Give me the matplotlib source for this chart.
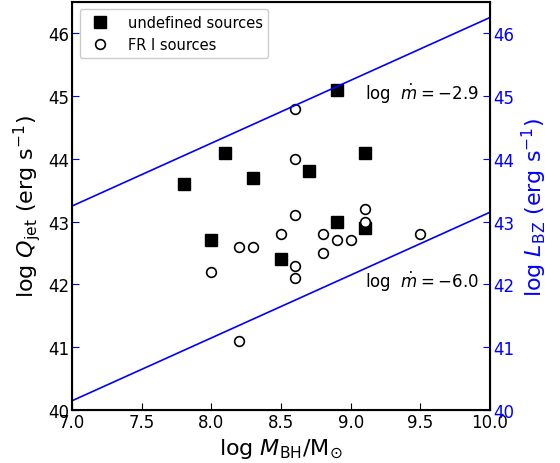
import numpy as np
import matplotlib
matplotlib.use('Agg')
import matplotlib.pyplot as plt

# undefined sources (filled squares)
und_mbh = [7.8, 8.1, 8.3, 8.7, 8.9, 9.1, 8.0, 8.5, 8.9, 9.1]
und_q = [43.6, 44.1, 43.7, 43.8, 45.1, 44.1, 42.7, 42.4, 43.0, 42.9]

# FR I sources (open circles)
fr1_mbh = [8.6, 8.6, 9.1, 8.6, 9.1, 8.5, 8.8, 9.5, 8.9, 9.0, 8.2, 8.3, 8.8, 8.6, 8.0, 8.6, 8.2]
fr1_q = [44.8, 44.0, 43.2, 43.1, 43.0, 42.8, 42.8, 42.8, 42.7, 42.7, 42.6, 42.6, 42.5, 42.3, 42.2, 42.1, 41.1]

# accretion-rate lines: log Q = log M + offset
line_mbh = [7.0, 10.0]
line_offsets = [36.25, 33.15]
line_labels = [r'log  $\dot{m} = -2.9$', r'log  $\dot{m} = -6.0$']
label_y = [45.05, 42.05]

fig = plt.figure(figsize=(5.6, 4.64), dpi=100)
ax = fig.add_axes([0.129, 0.114, 0.746, 0.88])

ax.plot(und_mbh, und_q, 's', color='black', markersize=8, label='undefined sources')
ax.plot(fr1_mbh, fr1_q, 'o', markerfacecolor='white', markeredgecolor='black',
        markeredgewidth=1.2, markersize=7, label='FR I sources')

for off, lab, ly in zip(line_offsets, line_labels, label_y):
    ax.plot(line_mbh, [m + off for m in line_mbh], color='blue', linewidth=1.2)
    ax.text(9.1, ly, lab, fontsize=12, va='center', ha='left')

ax.set_xlim(7.0, 10.0)
ax.set_ylim(40, 46.5)
ax.set_xticks([7.0, 7.5, 8.0, 8.5, 9.0, 9.5, 10.0])
ax.set_xticklabels(['7.0', '7.5', '8.0', '8.5', '9.0', '9.5', '10.0'])
ax.set_yticks([40, 41, 42, 43, 44, 45, 46])
ax.tick_params(axis='x', direction='in', labelsize=12, pad=2, length=5)
ax.tick_params(axis='y', direction='in', labelsize=12, pad=2, length=5, color='blue')
ax.set_xlabel(r'log $M_{\rm BH}$/M$_{\odot}$', fontsize=16)
ax.set_ylabel(r'log $Q_{\rm jet}$ (erg s$^{-1}$)', fontsize=16)
for s in ax.spines.values():
    s.set_linewidth(1.5)

ax.legend(loc='upper left', fontsize=10.5, numpoints=1, framealpha=1,
          borderpad=0.4, handletextpad=0.9)

ax2 = ax.twinx()
ax2.set_ylim(40, 46.5)
ax2.set_yticks([40, 41, 42, 43, 44, 45, 46])
ax2.tick_params(axis='y', direction='in', labelsize=12, pad=2, length=5,
                color='blue', labelcolor='blue')
ax2.set_ylabel(r'log $L_{\rm BZ}$ (erg s$^{-1}$)', fontsize=16, color='blue')

fig.savefig('out.png', dpi=100)
